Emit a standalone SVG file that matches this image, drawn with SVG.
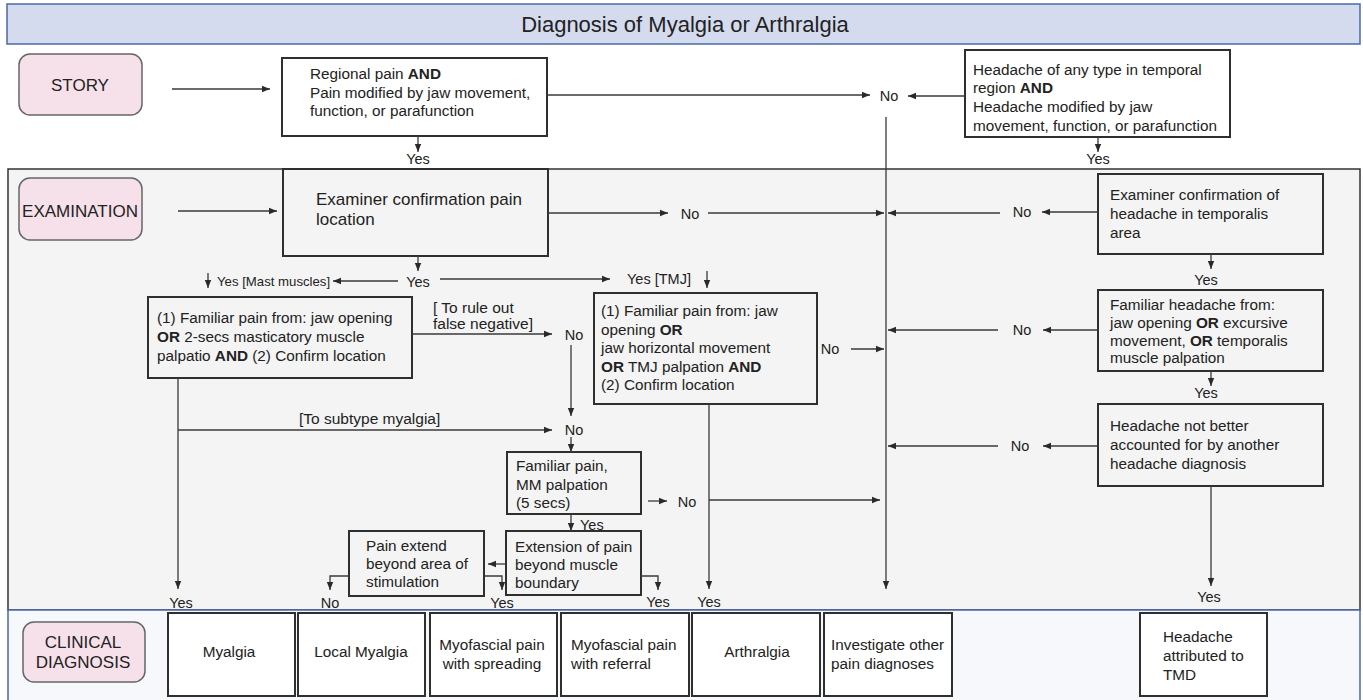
<svg xmlns="http://www.w3.org/2000/svg" width="1363" height="700" viewBox="0 0 1363 700">
<defs>
<marker id="ah" viewBox="0 0 10 10" refX="10" refY="5" markerWidth="9" markerHeight="8" markerUnits="userSpaceOnUse" orient="auto"><path d="M0,1 L10,5 L0,9 z" fill="#2a2a2a"/></marker>
<style>
text{font-family:"Liberation Sans",Arial,sans-serif;fill:#222;}
.t{font-size:15.3px;}
.m{font-size:17px;}
.l{font-size:14.5px;}
.s{font-size:13.2px;}
.k{font-size:15.5px;}
.p{font-size:17px;}
.c{text-anchor:middle;}
.b{font-weight:bold;}
.box{fill:#fff;stroke:#2f2f2f;stroke-width:2;}
.gbox{fill:#f4f4f4;stroke:#2f2f2f;stroke-width:2;}
.pill{fill:#f6e0e9;stroke:#666;stroke-width:1.5;}
.cn line,.cn path{stroke:#3a3a3a;stroke-width:1.3;fill:none;}
.a{marker-end:url(#ah);}
</style>
</defs>
<rect width="1363" height="700" fill="#ffffff"/>
<g id="title">
<rect x="7" y="4" width="1353" height="40" fill="#d5dbee" stroke="#4a68a8" stroke-width="1.5"/>
<text x="685" y="32" font-size="22" class="c">Diagnosis of Myalgia or Arthralgia</text>
</g>
<g id="section-exam"><rect x="8" y="169" width="1352" height="441" fill="#f4f4f4" stroke="#333" stroke-width="1.5"/></g>
<g id="section-clinical"><rect x="8" y="610" width="1352" height="92" fill="#f7f8fc" stroke="#4a68a8" stroke-width="1.5"/></g>

<g id="story"><rect x="19" y="54" width="123" height="61" rx="11" class="pill"/><text x="80" y="91" class="p c">STORY</text></g>
<g id="examination"><rect x="19" y="178" width="123" height="62" rx="11" class="pill"/><text x="80" y="217" class="p c">EXAMINATION</text></g>
<g id="clinical"><rect x="23" y="622" width="122" height="60" rx="11" class="pill"/><text x="83" y="648" class="p c">CLINICAL</text><text x="83" y="668" class="p c">DIAGNOSIS</text></g>

<g id="regional"><rect x="282" y="58" width="265" height="78" class="box"/>
<text class="t" x="310" y="79">Regional pain  <tspan class="b">AND</tspan></text>
<text class="t" x="310" y="98">Pain modified by jaw movement,</text>
<text class="t" x="310" y="116">function, or parafunction</text></g>

<g id="headache-story"><rect x="965" y="50" width="265" height="87" class="box"/>
<text class="t" x="973" y="75">Headache of any type in temporal</text>
<text class="t" x="973" y="93">region <tspan class="b">AND</tspan></text>
<text class="t" x="973" y="112">Headache modified by jaw</text>
<text class="t" x="973" y="131">movement, function, or parafunction</text></g>

<g id="examiner"><rect x="283" y="169" width="265" height="87" class="gbox"/>
<text class="m" x="316" y="205">Examiner confirmation pain</text>
<text class="m" x="316" y="225">location</text></g>

<g id="examiner-headache"><rect x="1098" y="174" width="225" height="80" class="gbox"/>
<text class="t" x="1110" y="200">Examiner confirmation of</text>
<text class="t" x="1110" y="219">headache in temporalis</text>
<text class="t" x="1110" y="238">area</text></g>

<g id="familiar-headache"><rect x="1098" y="290" width="225" height="81" class="gbox"/>
<text class="t" x="1110" y="310">Familiar headache from:</text>
<text class="t" x="1110" y="328">jaw opening <tspan class="b">OR</tspan> excursive</text>
<text class="t" x="1110" y="346">movement, <tspan class="b">OR</tspan> temporalis</text>
<text class="t" x="1110" y="363">muscle palpation</text></g>

<g id="headache-not-better"><rect x="1098" y="404" width="225" height="82" class="gbox"/>
<text class="t" x="1110" y="431">Headache not better</text>
<text class="t" x="1110" y="450">accounted for by another</text>
<text class="t" x="1110" y="469">headache diagnosis</text></g>

<g id="familiar-mast"><rect x="148" y="297" width="264" height="81" class="gbox"/>
<text class="t" x="157" y="323">(1) Familiar pain from: jaw opening</text>
<text class="t" x="157" y="342"><tspan class="b">OR</tspan> 2-secs masticatory muscle</text>
<text class="t" x="157" y="361">palpatio <tspan class="b">AND</tspan> (2) Confirm location</text></g>

<g id="familiar-tmj"><rect x="594" y="293" width="223" height="111" class="gbox"/>
<text class="t" x="601" y="316">(1) Familiar pain from: jaw</text>
<text class="t" x="601" y="335">opening <tspan class="b">OR</tspan></text>
<text class="t" x="601" y="353">jaw horizontal movement</text>
<text class="t" x="601" y="372"><tspan class="b">OR</tspan> TMJ palpation <tspan class="b">AND</tspan></text>
<text class="t" x="601" y="390">(2) Confirm location</text></g>

<g id="mm-palpation"><rect x="507" y="452" width="134" height="62" class="gbox"/>
<text class="t" x="516" y="471">Familiar pain,</text>
<text class="t" x="516" y="490">MM palpation</text>
<text class="t" x="516" y="508">(5 secs)</text></g>

<g id="extension"><rect x="506" y="531" width="135" height="64" class="gbox"/>
<text class="t" x="515" y="552">Extension of pain</text>
<text class="t" x="515" y="570">beyond muscle</text>
<text class="t" x="515" y="588">boundary</text></g>

<g id="pain-extend"><rect x="349" y="531" width="135" height="65" class="gbox"/>
<text class="t" x="366" y="551">Pain extend</text>
<text class="t" x="366" y="569">beyond area of</text>
<text class="t" x="366" y="587">stimulation</text></g>

<g id="dx-myalgia"><rect x="168" y="613" width="127" height="83" class="box"/><text class="t c" x="229" y="657">Myalgia</text></g>
<g id="dx-local"><rect x="298" y="613" width="127" height="83" class="box"/><text class="t c" x="361" y="657">Local Myalgia</text></g>
<g id="dx-spreading"><rect x="430" y="613" width="127" height="83" class="box"/><text class="t c" x="492" y="650">Myofascial pain</text><text class="t c" x="492" y="669">with spreading</text></g>
<g id="dx-referral"><rect x="561" y="613" width="128" height="83" class="box"/><text class="t" x="571" y="650">Myofascial pain</text><text class="t" x="571" y="669">with referral</text></g>
<g id="dx-arthralgia"><rect x="692" y="613" width="128" height="83" class="box"/><text class="t c" x="757" y="657">Arthralgia</text></g>
<g id="dx-investigate"><rect x="824" y="613" width="128" height="83" class="box"/><text class="t" x="831" y="650">Investigate other</text><text class="t" x="831" y="669">pain diagnoses</text></g>
<g id="dx-headache"><rect x="1140" y="613" width="127" height="83" class="box"/><text class="t" x="1163" y="642">Headache</text><text class="t" x="1163" y="661">attributed to</text><text class="t" x="1163" y="680">TMD</text></g>

<g id="connectors" class="cn">
<line x1="172" y1="89" x2="270" y2="89" class="a"/>
<line x1="547" y1="95" x2="870" y2="95" class="a"/>
<line x1="965" y1="96" x2="908" y2="96" class="a"/>
<line x1="886" y1="117" x2="886" y2="589" class="a"/>
<line x1="418" y1="136" x2="418" y2="152" class="a"/>
<line x1="1098" y1="137" x2="1098" y2="152" class="a"/>
<line x1="178" y1="211" x2="277" y2="211" class="a"/>
<line x1="548" y1="213" x2="668" y2="213" class="a"/>
<line x1="708" y1="213" x2="884" y2="213" class="a"/>
<line x1="1000" y1="213" x2="888" y2="213" class="a"/>
<line x1="1098" y1="212" x2="1042" y2="212" class="a"/>
<line x1="1211" y1="254" x2="1211" y2="269" class="a"/>
<line x1="1098" y1="330" x2="1043" y2="330" class="a"/>
<line x1="998" y1="330" x2="888" y2="330" class="a"/>
<line x1="1211" y1="371" x2="1211" y2="386" class="a"/>
<line x1="1098" y1="446" x2="1043" y2="446" class="a"/>
<line x1="998" y1="446" x2="888" y2="446" class="a"/>
<line x1="1211" y1="486" x2="1211" y2="586" class="a"/>
<line x1="418" y1="256" x2="418" y2="271" class="a"/>
<line x1="398" y1="281" x2="333" y2="281" class="a"/>
<line x1="208" y1="273" x2="208" y2="288" class="a"/>
<line x1="440" y1="279" x2="610" y2="279" class="a"/>
<line x1="707" y1="271" x2="707" y2="288" class="a"/>
<line x1="412" y1="334" x2="552" y2="334" class="a"/>
<line x1="571" y1="345" x2="571" y2="416" class="a"/>
<line x1="178" y1="378" x2="178" y2="589" class="a"/>
<line x1="178" y1="430" x2="552" y2="430" class="a"/>
<line x1="571" y1="437" x2="571" y2="452" class="a"/>
<line x1="648" y1="501" x2="667" y2="501" class="a"/>
<line x1="709" y1="500" x2="880" y2="500" class="a"/>
<line x1="709" y1="404" x2="709" y2="589" class="a"/>
<line x1="851" y1="349" x2="884" y2="349" class="a"/>
<line x1="571" y1="514" x2="571" y2="531" class="a"/>
<line x1="506" y1="564" x2="488" y2="564" class="a"/>
<path d="M349,576 H330 V590" class="a"/>
<path d="M484,576 H502 V590" class="a"/>
<path d="M641,576 H658 V590" class="a"/>
</g>

<g id="labels">
<text class="l c" x="418" y="164">Yes</text>
<text class="l c" x="1098" y="164">Yes</text>
<text class="l c" x="889" y="101">No</text>
<text class="l c" x="690" y="219">No</text>
<text class="l c" x="1022" y="217">No</text>
<text class="l c" x="1206" y="285">Yes</text>
<text class="l c" x="1022" y="335">No</text>
<text class="l c" x="1206" y="398">Yes</text>
<text class="l c" x="1020" y="451">No</text>
<text class="l c" x="1209" y="602">Yes</text>
<text class="l c" x="418" y="287">Yes</text>
<text class="s" x="217" y="286">Yes [Mast muscles]</text>
<text class="l" x="627" y="284">Yes [TMJ]</text>
<text class="k" x="433" y="313">[ To rule out</text>
<text class="k" x="433" y="329">false negative]</text>
<text class="l c" x="574" y="340">No</text>
<text class="l c" x="830" y="354">No</text>
<text class="k" x="299" y="424">[To subtype myalgia]</text>
<text class="l c" x="574" y="435">No</text>
<text class="l c" x="687" y="507">No</text>
<text class="l" x="580" y="530">Yes</text>
<text class="l c" x="181" y="608">Yes</text>
<text class="l c" x="330" y="608">No</text>
<text class="l c" x="502" y="608">Yes</text>
<text class="l c" x="658" y="607">Yes</text>
<text class="l c" x="709" y="607">Yes</text>
</g>
</svg>
